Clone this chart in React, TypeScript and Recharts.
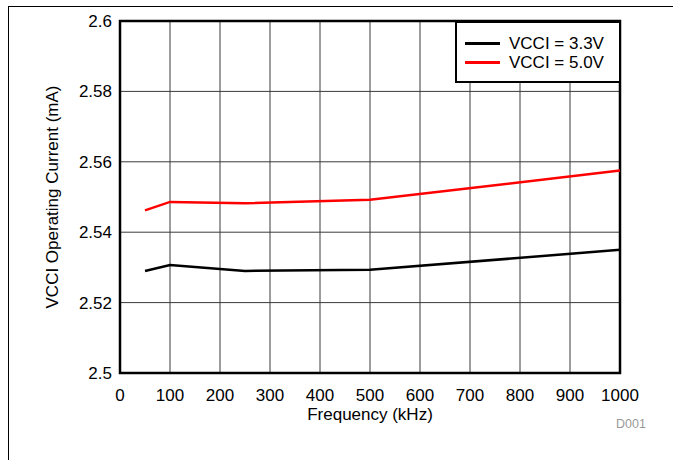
import { CartesianGrid, Line, LineChart, ReferenceArea, XAxis, YAxis } from 'recharts';

const frequencies = [50, 100, 250, 500, 1000];
const vcci33 = [2.529, 2.5307, 2.529, 2.5293, 2.535];
const vcci50 = [2.5462, 2.5486, 2.5482, 2.5492, 2.5575];
const xTicks = [0, 100, 200, 300, 400, 500, 600, 700, 800, 900, 1000];
const yTicks = [2.5, 2.52, 2.54, 2.56, 2.58, 2.6];

const seriesInfo = [
  { key: 'v33', name: 'VCCI = 3.3V', color: '#000000' },
  { key: 'v50', name: 'VCCI = 5.0V', color: '#ff0000' },
];

const data = frequencies.map((f, i) => ({ freq: f, v33: vcci33[i], v50: vcci50[i] }));

const FONT = '"Liberation Sans", Arial, sans-serif';

// legend drawn as a plain box so it doesn't eat chart margin
const LegendBox = () => (
  <div
    style={{
      position: 'absolute',
      left: 455,
      top: 21,
      width: 166,
      height: 62,
      border: '2px solid #000',
      background: '#fff',
      fontFamily: FONT,
      fontSize: 17,
      color: '#000',
      paddingTop: 11,
      boxSizing: 'border-box',
    }}
  >
    {seriesInfo.map((s) => (
      <div key={s.key} style={{ display: 'flex', alignItems: 'center', height: 19 }}>
        <span
          style={{ display: 'inline-block', width: 35, height: 2.5, background: s.color, marginLeft: 8, marginRight: 9 }}
        />
        <span>{s.name}</span>
      </div>
    ))}
  </div>
);

export default function App() {
  return (
    <div style={{ position: 'absolute', left: 0, top: 0, width: 673, height: 460, background: '#fff', fontFamily: FONT }}>
      <div
        style={{
          position: 'absolute',
          left: 8,
          top: 6,
          width: 665,
          height: 454,
          borderLeft: '1px solid #000',
          borderTop: '1px solid #000',
        }}
      />
      <LineChart
        width={673}
        height={460}
        data={data}
        margin={{ top: 21, right: 53, left: 40, bottom: 57 }}
        style={{ position: 'absolute', left: 0, top: 0 }}
      >
        <CartesianGrid stroke="#3a3a3a" strokeWidth={1} vertical horizontal />
        <XAxis
          dataKey="freq"
          type="number"
          domain={[0, 1000]}
          ticks={xTicks}
          tickLine={false}
          axisLine={false}
          tickMargin={10}
          height={30}
          tick={{ fill: '#000', fontSize: 17, fontFamily: FONT }}
          label={{ value: 'Frequency (kHz)', position: 'bottom', offset: 5, fill: '#000', fontSize: 17, fontFamily: FONT }}
        />
        <YAxis
          type="number"
          domain={[2.5, 2.6]}
          ticks={yTicks}
          tickLine={false}
          axisLine={false}
          width={80}
          tickFormatter={(v: number) => String(Number(v.toFixed(2)))}
          tick={{ fill: '#000', fontSize: 17, fontFamily: FONT }}
          label={{
            value: 'VCCI Operating Current (mA)',
            angle: -90,
            position: 'insideLeft',
            offset: 12,
            fill: '#000',
            fontSize: 17,
            fontFamily: FONT,
            style: { textAnchor: 'middle' },
          }}
        />
        <ReferenceArea x1={0} x2={1000} y1={2.5} y2={2.6} fill="none" stroke="#000" strokeWidth={2.5} ifOverflow="visible" />
        {seriesInfo.map((s) => (
          <Line
            key={s.key}
            dataKey={s.key}
            name={s.name}
            type="linear"
            stroke={s.color}
            strokeWidth={2.5}
            dot={false}
            isAnimationActive={false}
          />
        ))}
      </LineChart>
      <LegendBox />
      <div style={{ position: 'absolute', left: 616, top: 417, fontSize: 12.5, color: '#999', fontFamily: FONT }}>D001</div>
    </div>
  );
}
